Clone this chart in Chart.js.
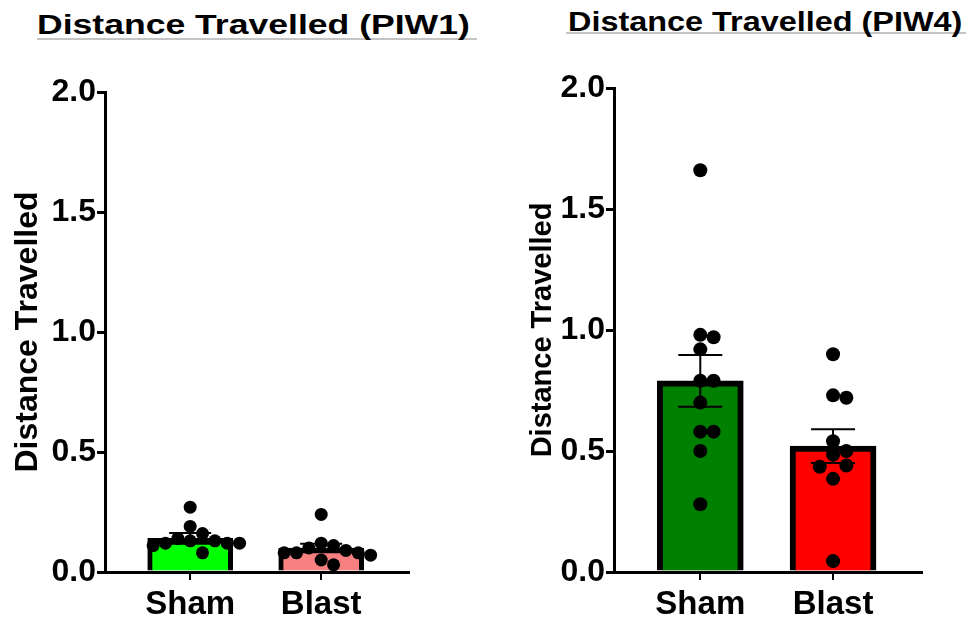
<!DOCTYPE html>
<html>
<head>
<meta charset="utf-8">
<script src="https://cdn.jsdelivr.net/npm/chart.js@4.4.0/dist/chart.umd.min.js"></script>
<style>
  body { margin: 0; background: #fff; width: 972px; height: 622px; position: relative; overflow: hidden; font-family: 'Liberation Sans', Arial, sans-serif; }
  .title { position: absolute; font-weight: bold; white-space: nowrap; transform-origin: 0 0; line-height: 1; color: #000; }
  .rule { position: absolute; height: 2px; background: #c4c4c4; }
  .wrap { position: absolute; top: 0; width: 486px; height: 622px; }
</style>
</head>
<body>
<div class="rule" style="left:37px; top:38px; width:440px"></div>
<div class="title" style="left:37px; top:11px; font-size:28px; transform:scaleX(1.27)">Distance Travelled (PIW1)</div>
<div class="rule" style="left:566px; top:32px; width:400px"></div>
<div class="title" style="left:568px; top:9px; font-size:27px; transform:scaleX(1.2)">Distance Travelled (PIW4)</div>
<div class="wrap" style="left:0"><canvas id="chartPiw1" width="486" height="622"></canvas></div>
<div class="wrap" style="left:486px"><canvas id="chartPiw4" width="486" height="622"></canvas></div>
<script>
const categories = ['Sham', 'Blast'];
const yTicks = [0, 0.5, 1.0, 1.5, 2.0];

// PIW1
const piw1Sham = [0.27, 0.19, 0.16, 0.14, 0.13, 0.13, 0.12, 0.12, 0.12, 0.11, 0.08];
const piw1Blast = [0.24, 0.12, 0.11, 0.10, 0.09, 0.08, 0.08, 0.08, 0.07, 0.05, 0.03];
const piw1Means = [0.14, 0.10];
const piw1Sem = [0.022, 0.018];
const piw1Colors = ['#00ff00', '#f88080'];

// PIW4
const piw4Sham = [1.66, 0.98, 0.97, 0.92, 0.79, 0.79, 0.70, 0.58, 0.58, 0.50, 0.28];
const piw4Blast = [0.90, 0.73, 0.72, 0.54, 0.50, 0.485, 0.44, 0.435, 0.385, 0.045];
const piw4Means = [0.79, 0.52];
const piw4Sem = [0.107, 0.07];
const piw4Colors = ['#008000', '#ff0000'];

const FONT = "'Liberation Sans', Arial, sans-serif";

// barre di errore (media +/- SEM), disegnate sopra le barre e sotto i punti
function errorBarsPlugin(means, sem, cap) {
    return {
        id: 'errorBars',
        afterDatasetDraw(chart, args) {
            if (args.meta.type !== 'bar') return;
            const ctx = chart.ctx;
            const xs = chart.scales.x, ys = chart.scales.y;
            ctx.save();
            ctx.strokeStyle = '#000';
            ctx.lineWidth = 2;
            means.forEach((m, i) => {
                const px = xs.getPixelForValue(i);
                const top = ys.getPixelForValue(m + sem[i]);
                const bot = ys.getPixelForValue(m - sem[i]);
                ctx.beginPath();
                ctx.moveTo(px, top); ctx.lineTo(px, bot);
                ctx.moveTo(px - cap, top); ctx.lineTo(px + cap, top);
                ctx.moveTo(px - cap, bot); ctx.lineTo(px + cap, bot);
                ctx.stroke();
            });
            ctx.restore();
        }
    };
}

// semplice beeswarm: sposta i punti in orizzontale per evitare sovrapposizioni
function swarm(chart, values, group, r) {
    const xs = chart.scales.x, ys = chart.scales.y;
    const cx = xs.getPixelForValue(group);
    const minD = 2 * r * 0.95;
    const placed = [];
    const out = new Array(values.length);
    const order = values.map((v, i) => i).sort((a, b) => values[b] - values[a]);
    order.forEach(i => {
        const py = ys.getPixelForValue(values[i]);
        for (let k = 0; k < 40; k++) {
            const off = k === 0 ? 0 : Math.ceil(k / 2) * minD * (k % 2 ? 1 : -1);
            const ok = placed.every(p => Math.hypot(p[0] - (cx + off), p[1] - py) >= minD);
            if (ok) {
                placed.push([cx + off, py]);
                out[i] = { x: xs.getValueForPixel(cx + off), y: values[i] };
                break;
            }
        }
    });
    return out;
}

function makeChart(id, groups, means, sem, colors, s) {
    const chart = new Chart(document.getElementById(id), {
        type: 'bar',
        data: {
            datasets: [
                {
                    type: 'bar',
                    data: means.map((m, i) => ({ x: i, y: m })),
                    backgroundColor: colors,
                    borderColor: '#000',
                    borderWidth: s.border,
                    barThickness: s.barWidth,
                    order: 2
                },
                ...groups.map((vals, g) => ({
                    type: 'scatter',
                    data: vals.map(v => ({ x: g, y: v })),
                    backgroundColor: '#000',
                    borderWidth: 0,
                    pointRadius: s.dot,
                    clip: false,
                    order: 1
                }))
            ]
        },
        options: {
            responsive: false,
            animation: false,
            layout: { padding: { top: s.top, right: s.right, left: 0, bottom: 0 } },
            plugins: { legend: { display: false }, tooltip: { enabled: false } },
            scales: {
                x: {
                    type: 'linear',
                    min: -0.65,
                    max: 1.67,
                    offset: false,
                    afterBuildTicks: sc => { sc.ticks = categories.map((c, i) => ({ value: i })); },
                    afterFit: sc => { sc.height = 50; },
                    ticks: {
                        callback: v => categories[v],
                        font: { family: FONT, size: 33, weight: 'bold' },
                        color: '#000',
                        padding: 5,
                        maxRotation: 0,
                        autoSkip: false
                    },
                    grid: { offset: false, drawOnChartArea: false, tickLength: 8, color: '#000', lineWidth: 2 },
                    border: { color: '#000', width: 3 }
                },
                y: {
                    min: 0,
                    max: 2,
                    afterBuildTicks: sc => { sc.ticks = yTicks.map(v => ({ value: v })); },
                    afterFit: sc => { sc.width = s.yWidth; },
                    ticks: {
                        callback: v => v.toFixed(1),
                        font: { family: FONT, size: 32, weight: 'bold' },
                        color: '#000',
                        padding: 1
                    },
                    grid: { drawOnChartArea: false, tickLength: 8, color: '#000', lineWidth: 3 },
                    border: { color: '#000', width: 3 },
                    title: {
                        display: true,
                        text: 'Distance Travelled',
                        font: { family: FONT, size: s.yTitle, weight: 'bold' },
                        color: '#000',
                        padding: { top: s.titlePad, bottom: 0 }
                    }
                }
            }
        },
        plugins: [errorBarsPlugin(means, sem, s.cap)]
    });

    groups.forEach((vals, g) => {
        chart.data.datasets[g + 1].data = swarm(chart, vals, g, s.dot);
    });
    chart.update('none');
    return chart;
}

makeChart('chartPiw1', [piw1Sham, piw1Blast], piw1Means, piw1Sem, piw1Colors,
    { top: 92, right: 77, yWidth: 105, yTitle: 32, titlePad: 9, border: 5, barWidth: 85, dot: 6.5, cap: 21 });
makeChart('chartPiw4', [piw4Sham, piw4Blast], piw4Means, piw4Sem, piw4Colors,
    { top: 88, right: 50, yWidth: 128, yTitle: 29, titlePad: 40, border: 6, barWidth: 86, dot: 7, cap: 22 });
</script>
</body>
</html>
